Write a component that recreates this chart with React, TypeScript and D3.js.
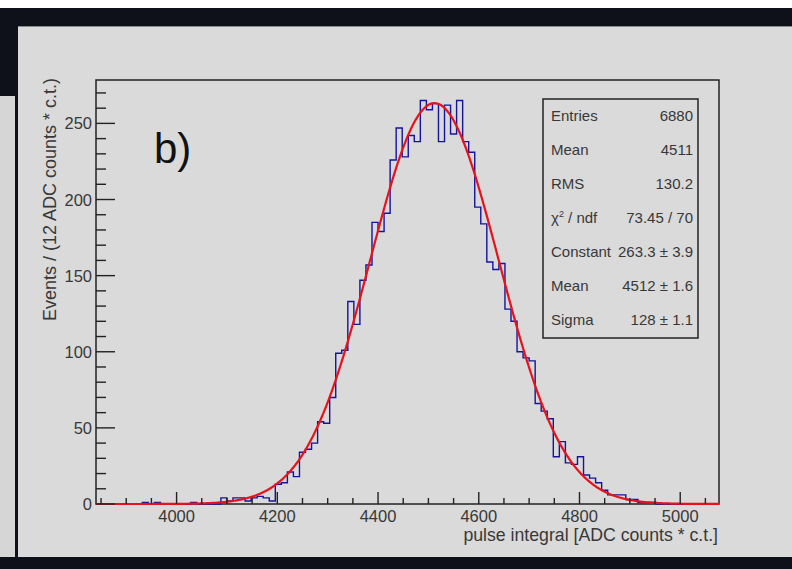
import React from 'react';
import * as d3 from 'd3';

// histogram: 12 ADC-count bins starting at 3848
const binStart = 3848;
const binWidth = 12;
const counts = [
  0, 0, 0, 0, 0, 0, 0, 1, 0, 1,
  0, 0, 0, 0, 0, 1, 0, 0, 0, 0,
  4, 2, 4, 4, 2, 4, 5, 4, 2, 13,
  14, 21, 18, 34, 36, 40, 54, 53, 70, 99,
  101, 133, 118, 147, 157, 185, 179, 191, 226, 247,
  228, 242, 238, 265, 259, 263, 238, 262, 243, 265,
  238, 231, 195, 184, 159, 154, 158, 128, 120, 100,
  96, 94, 66, 61, 56, 31, 41, 27, 26, 31,
  19, 17, 14, 9, 6, 6, 6, 3, 3, 1,
  1, 1, 0, 0, 0, 0, 0, 0, 0, 0,
  0, 0,
];

// gaus fit parameters
const fitConstant = 263.3;
const fitMean = 4512;
const fitSigma = 128;

const xTickLabels = [4000, 4200, 4400, 4600, 4800, 5000];
const yTickLabels = [0, 50, 100, 150, 200, 250];

const statLabels = ['Entries', 'Mean', 'RMS', 'chi', 'Constant', 'Mean', 'Sigma'];
const statValues = ['6880', '4511', '130.2', '73.45 / 70', '263.3 \u00b1 3.9', '4512 \u00b1 1.6', '128 \u00b1 1.1'];

const W = 792, H = 569;
const plot = { left: 96, right: 719, top: 80, bottom: 504 };
const dark = '#0e111a';
const panel = '#dadada';
const ink = '#383838';
const font = '"Liberation Sans", Arial, Helvetica, sans-serif';

export default function App() {
  const x = d3.scaleLinear().domain([3840, 5077]).range([plot.left, plot.right]);
  const y = d3.scaleLinear().domain([0, 278.5]).range([plot.bottom, plot.top]);

  // step outline of the histogram
  let histPath = `M${x(binStart)},${y(0)}`;
  counts.forEach((c, i) => {
    const lo = binStart + i * binWidth;
    histPath += `V${y(c)}H${x(lo + binWidth)}`;
  });
  histPath += `V${y(0)}`;

  const gaus = (v: number) => fitConstant * Math.exp(-0.5 * ((v - fitMean) / fitSigma) ** 2);
  const [d0, d1] = x.domain();
  const fitPts = d3.range(0, 501).map(i => d0 + (d1 - d0) * i / 500);
  const fitLine = d3.line<number>().x(v => x(v)).y(v => y(gaus(v)))(fitPts) || '';

  const xMinor = d3.range(3850, 5077, 50);
  const yMinor = d3.range(0, 278, 10);

  const rowY = d3.scaleLinear().domain([0, 6]).range([121, 325]);

  return (
    <svg width={W} height={H} style={{ position: 'absolute', left: 0, top: 0 }} fontFamily={font}>
      {/* surroundings */}
      <rect x={0} y={0} width={W} height={H} fill="#fff" />
      <rect x={0} y={8} width={W} height={18} fill={dark} />
      <rect x={0} y={8} width={18} height={90} fill={dark} />
      <rect x={0} y={96} width={15} height={461} fill="#d6d6d6" />
      <rect x={15} y={96} width={3} height={461} fill={dark} />
      <rect x={18} y={26} width={W - 18} height={531} fill={panel} />
      <line x1={18} x2={W} y1={26.5} y2={26.5} stroke="#8a8a8a" />
      <rect x={0} y={557} width={W} height={12} fill={dark} />

      {/* frame */}
      <rect x={plot.left} y={plot.top} width={plot.right - plot.left} height={plot.bottom - plot.top}
        fill="none" stroke="#222" strokeWidth={1.5} />

      {/* histogram + fit */}
      <path d={histPath} fill="none" stroke="#14149c" strokeWidth={1.4} />
      <path d={fitLine} fill="none" stroke="#e8121c" strokeWidth={2.2} />

      {/* ticks */}
      <g stroke="#222" strokeWidth={1.4}>
        {xMinor.map(v => (
          <line key={'xm' + v} x1={x(v)} x2={x(v)} y1={plot.bottom}
            y2={plot.bottom - (xTickLabels.includes(v) ? 12 : 6)} />
        ))}
        {yMinor.map(v => (
          <line key={'ym' + v} x1={plot.left} y1={y(v)} y2={y(v)}
            x2={plot.left + (yTickLabels.includes(v) ? 19 : 10)} />
        ))}
      </g>
      <g fill={ink} fontSize={16.5}>
        {xTickLabels.map(v => (
          <text key={'xl' + v} x={x(v)} y={522} textAnchor="middle">{v}</text>
        ))}
        {yTickLabels.map(v => (
          <text key={'yl' + v} x={92} y={y(v) + 6} textAnchor="end">{v}</text>
        ))}
      </g>

      {/* axis titles */}
      <text x={718} y={541} textAnchor="end" fontSize={17.7} fill={ink}>
        pulse integral [ADC counts * c.t.]
      </text>
      <text transform={`translate(56,${plot.top - 2}) rotate(-90)`} textAnchor="end" fontSize={18} fill={ink}>
        Events / (12 ADC counts * c.t.)
      </text>

      {/* panel label */}
      <text x={154} y={163} fontSize={42} fill="#111">b)</text>

      {/* stats box */}
      <rect x={543} y={99} width={155} height={239} fill={panel} stroke="#222" strokeWidth={1.5} />
      <g fontSize={15} fill={ink}>
        {statLabels.map((l, i) => (
          <text key={'sl' + i} x={551} y={rowY(i)}>
            {l === 'chi' ? (<>{'\u03c7'}<tspan fontSize={9} dy={-6}>2</tspan><tspan dy={6}>{' / ndf'}</tspan></>) : l}
          </text>
        ))}
        {statValues.map((v, i) => (
          <text key={'sv' + i} x={693} y={rowY(i)} textAnchor="end">{v}</text>
        ))}
      </g>
    </svg>
  );
}
